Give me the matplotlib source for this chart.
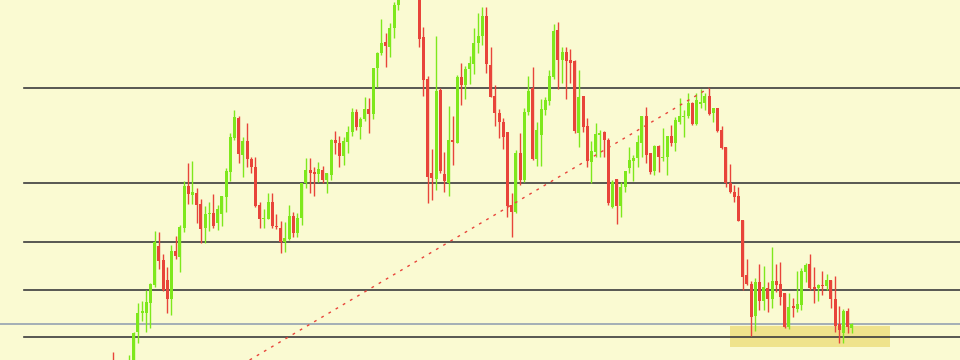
import numpy as np
import matplotlib
matplotlib.use("Agg")
import matplotlib.pyplot as plt

# OHLC, one entry per candle (price units, chart top = 360)
opens = [-5, -20, -10, -5, -12, -5, 27.7, 47.3, 47.3, 57.3,
         75, 114, 100, 80, 61, 109.3, 103.3, 132.3, 174, 165.3,
         167.3, 156, 131.7, 146, 147.3, 136.7, 145.7, 163.3, 188.3, 222.3,
         242, 205, 218.7, 201, 193.3, 155, 140.7, 141.3, 157.7, 134,
         132.3, 118.3, 120.7, 144.3, 127.3, 141.7, 177.3, 190, 188.3, 186,
         190, 180, 185.3, 219.7, 216.7, 204, 218.3, 228.3, 248.3, 233.3,
         240.7, 251.3, 246, 291.7, 306.7, 318.3, 313.3, 331.7, 355, 368,
         380, 376, 385, 378, 322.7, 280.7, 187.3, 181, 270, 186,
         176.7, 220, 217.3, 282.7, 275, 291, 295.7, 316.7, 324, 344,
         295, 264, 246.7, 238.3, 227.7, 155, 148.3, 206.7, 180, 248.3,
         271.7, 200.7, 225, 250, 259, 283.3, 330, 300, 308.3, 300,
         299, 226.7, 264, 234, 198.3, 208.3, 225.3, 228.3, 220, 153.3,
         181, 154, 172.7, 191.7, 199.3, 201.7, 217.3, 244, 207.3, 189,
         214, 201.7, 203.3, 224, 217.3, 238.3, 243.3, 244, 256.7, 236,
         256, 256.7, 264, 247.3, 251.7, 230, 212.7, 177.3, 168.3, 164,
         140, 85, 76, 44, 78.3, 59.3, 72.3, 60.7, 79.3, 76,
         66.7, 33.3, 54, 50.7, 55, 88.3, 95.7, 72.7, 71.7, 75,
         74, 80, 60.7, 35.7, 27.3, 49.3, 32.3]
highs = [8, -5, -2, 0, 5, 28.5, 56.7, 59, 70, 77.3,
         129.3, 128, 105.7, 93.3, 115, 124, 135, 179, 196.7, 199,
         171.7, 160.7, 154.3, 157.7, 166, 154.7, 164.3, 192.3, 227.3, 250,
         244, 223.3, 236.7, 203.3, 202.7, 158, 151, 166.7, 166.7, 146,
         139, 137.7, 154.7, 148.3, 146.7, 177.3, 201.7, 201.7, 193.3, 198.3,
         194.3, 187.3, 220.7, 229, 224, 223.3, 234, 251.7, 250.7, 243.3,
         262.7, 261.7, 291.7, 308.3, 340.7, 327.3, 337.3, 358.3, 372, 386,
         390, 392, 391, 382, 333.3, 284, 211, 324, 271.7, 208.3,
         254, 244, 285, 296.7, 294, 304, 331.7, 346.7, 353.3, 353.3,
         312.7, 275, 250.7, 241.7, 227.7, 166.7, 210, 226.7, 251.7, 284,
         293.3, 238.3, 260.7, 263.3, 290, 336, 338.3, 313.3, 313.3, 310.7,
         300, 290, 264, 241.7, 219.3, 237.3, 230, 229.3, 221.7, 180,
         181, 178.3, 189, 213.3, 205, 225, 244, 253.3, 207.3, 215,
         215, 231.7, 224, 235, 242.7, 261.7, 250, 266.7, 258.3, 266.7,
         270.7, 266.7, 271.7, 252, 252, 234.3, 212.7, 195.7, 175, 173.3,
         140, 101, 79.3, 81.7, 96, 94, 78.3, 112.7, 96, 98.3,
         66.7, 67.3, 61.7, 89.3, 91.7, 96.7, 106, 93.3, 76, 89.3,
         86, 80, 84, 54.3, 50.7, 51.7, 36.7]
lows = [-20, -25, -14, -12, -16, -8, 16.7, 39.3, 27.7, 32.3,
        73.3, 90.7, 69, 47.3, 45, 100.7, 88.3, 128.3, 156, 156,
        136.7, 116.7, 116.7, 129.3, 131.7, 130, 134.3, 148.3, 179.3, 220,
        196.7, 183.3, 193.3, 186.7, 152.7, 131.7, 132, 141, 131.7, 131,
        107.3, 108.3, 120, 122.7, 123, 135, 171.7, 166.7, 164, 178.3,
        176.7, 166.7, 180, 206, 192.7, 195, 207.3, 224, 230, 220.7,
        239.3, 227.3, 241, 273.3, 305, 293.3, 303.3, 321.7, 350, 362,
        370, 372, 366, 313.3, 264.3, 156.7, 160, 170, 186.7, 168.3,
        164, 195, 216.7, 255, 261, 275.7, 286, 306.7, 315, 287.3,
        263, 234, 221.7, 210.7, 142.7, 123.3, 146.7, 175, 178.3, 245,
        200, 194, 194, 245, 255, 280.7, 270.7, 277.3, 260.7, 277.3,
        227.3, 213.3, 228.3, 193.3, 176.7, 203.3, 203, 202.7, 155, 152,
        136, 143, 167.7, 186.7, 179.3, 193.3, 203.3, 196.7, 186, 185,
        188.3, 199, 185, 214, 209.3, 236, 223.3, 241.7, 235, 235,
        251.7, 250, 245, 238.3, 228.3, 211, 172.7, 166.7, 158.3, 139,
        70, 75, 24, 29.3, 50, 50, 48.3, 51.7, 68.3, 55,
        31.7, 30.7, 43.3, 48, 50, 78.3, 70, 56.7, 59.3, 65,
        70, 51.7, 28.3, 17.3, 16.7, 26.7, 27.3]
closes = [-15, -10, -5, -9, -2, 27.5, 47.3, 49.3, 57.7, 76,
          118.3, 99.3, 70, 61, 109, 104, 132.7, 174.3, 166, 167.7,
          154.7, 130.7, 146, 147.3, 134.3, 151, 164, 189, 222.7, 242.7,
          205.7, 219, 200.7, 193.3, 154, 140.7, 141.7, 157.7, 134, 132.7,
          118.3, 121.7, 144, 127.3, 141.7, 177.3, 190, 187.3, 186.3, 190.7,
          180, 187.3, 220, 216.7, 204, 219, 228.3, 248.3, 233.3, 241,
          251.3, 246, 291.7, 307.3, 317.3, 314.3, 331.7, 355, 368, 380,
          376, 385, 378, 320.7, 280, 183.3, 181.7, 269.3, 189.3, 179,
          220, 217.7, 282.7, 275, 291, 296.7, 317.3, 324, 344, 295.7,
          263.3, 246.7, 238.3, 223.3, 154, 148.3, 206.7, 180, 248.3, 269.3,
          200.7, 230, 250.7, 260, 284, 329.3, 300, 308.3, 299.3, 297.3,
          229, 263.3, 233.3, 199.3, 209.3, 226, 227.3, 220, 156.7, 178.3,
          154, 173.3, 189, 200, 202.3, 218.3, 244, 205, 188.3, 214,
          202.7, 203.3, 224, 217.3, 240, 244, 244.3, 256.7, 236, 260,
          258.3, 264, 245.7, 251.7, 229.3, 211.7, 177.3, 168.3, 163.3, 139.3,
          82.7, 76, 43.3, 78.3, 59.3, 72.7, 61, 79.3, 75, 63.3,
          32.7, 53.3, 51.7, 56, 89, 95, 71.7, 70.7, 75, 74,
          80, 60.7, 34.3, 30, 49.3, 33.3, 35.7]

# horizontal levels, dashed trend line, highlighted zone
levels = [272, 177.5, 118, 70, 22.7]
blue_level = 35.7
trend_x = [32.6, 142]
trend_y = [0, 272]
zone_x = [147, 185.1]
zone_y = [13, 34]

UP = "#7ee81c"
DOWN = "#e8443a"

fig = plt.figure(figsize=(9.6, 3.6), dpi=100)
fig.patch.set_facecolor("#fafad2")
ax = fig.add_axes([0, 0, 1, 1])
ax.set_facecolor("#fafad2")

idx = np.arange(len(opens))
o = np.array(opens)
h = np.array(highs)
l = np.array(lows)
c = np.array(closes)
colors = [UP if cc >= oo else DOWN for oo, cc in zip(o, c)]

ax.add_patch(plt.Rectangle((zone_x[0], zone_y[0]), zone_x[1] - zone_x[0],
                           zone_y[1] - zone_y[0], color="#efe38c", zorder=0.5, lw=0))

for lv in levels:
    ax.axhline(lv, xmin=24 / 960, xmax=1, color="#3c3c3c", lw=1.2, zorder=1)
ax.axhline(blue_level, color="#8c9aae", lw=1.1, zorder=1)

ax.vlines(idx, l, h, colors=colors, lw=1.0, zorder=3)
bottoms = np.minimum(o, c)
heights = np.maximum(np.abs(c - o), 0.8)
ax.bar(idx, heights, bottom=bottoms, width=0.7, color=colors, lw=0, zorder=3)

ax.plot(trend_x, trend_y, color=DOWN, lw=1.0, linestyle=(0, (2, 4)), zorder=4)

ax.set_xlim(-26.83, 201.74)
ax.set_ylim(0, 360)
ax.axis("off")

fig.savefig("out.png", dpi=100, facecolor=fig.get_facecolor())
